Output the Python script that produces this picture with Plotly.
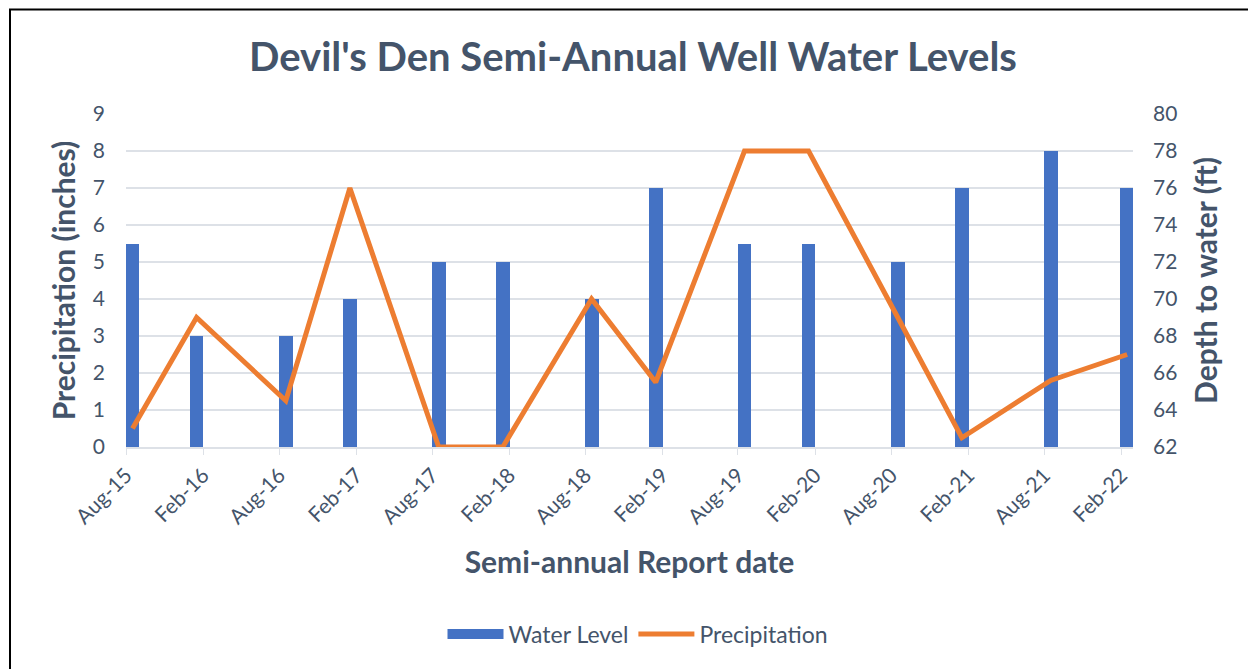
import plotly.graph_objects as go

# Data
report_months = ["2015-08", "2016-01", "2016-08", "2017-01", "2017-08", "2018-01", "2018-08",
                 "2019-01", "2019-08", "2020-01", "2020-08", "2021-01", "2021-08", "2022-02"]
water_level = [5.5, 3.0, 3.0, 4.0, 5.0, 5.0, 4.0, 7.0, 5.5, 5.5, 5.0, 7.0, 8.0, 7.0]
precipitation = [63.0, 69.0, 64.5, 76.0, 62.0, 62.0, 70.0, 65.5, 78.0, 78.0, 69.0, 62.5, 65.6, 67.0]

title_text = "Devil's Den Semi-Annual Well Water Levels"
x_title = "Semi-annual Report date"
y_title = "Precipitation (inches)"
y2_title = "Depth to water (ft)"

TXT = "#44546A"
GRID = "#DDE1E7"
BLUE = "#4472C4"
ORANGE = "#ED7D31"
FONT = "Lato"

# plot area in figure pixels (page has an 8px body offset)
L, R, T, B = 118, 1125, 106, 439
W, H = 1256, 669

fig = go.Figure()
fig.add_trace(go.Bar(
    x=report_months, y=water_level, name="Water Level",
    xperiod="M1", xperiodalignment="middle",
    width=33 * 86400000,
    marker=dict(color=BLUE, line=dict(width=0)),
    yaxis="y", showlegend=False, legendgroup="wl",
))
# legend entry for the bars (wide rectangle swatch)
fig.add_trace(go.Scatter(
    x=[None], y=[None], name="Water Level", mode="lines",
    line=dict(color=BLUE, width=15), legendgroup="wl", yaxis="y",
))
fig.add_trace(go.Scatter(
    x=report_months, y=precipitation, name="Precipitation",
    xperiod="M1", xperiodalignment="middle",
    mode="lines", line=dict(color=ORANGE, width=5),
    yaxis="y2",
))

fig.update_layout(
    width=W, height=H,
    paper_bgcolor="white", plot_bgcolor="white",
    margin=dict(l=L, r=W - R, t=T, b=H - B),
    font=dict(family=FONT, color=TXT, size=21),
    title=dict(text="<b>" + title_text + "</b>", x=(633 - 8) / W, xref="container", xanchor="center",
               y=1 - 49 / H, yref="container", yanchor="middle",
               font=dict(family=FONT, size=40, color=TXT)),
    xaxis=dict(
        type="date", range=["2015-08-01", "2022-03-01"],
        tick0="2015-08-01", dtick="M6", tickformat="%b-%y",
        tickangle=-45, ticks="outside", ticklen=6, tickcolor=GRID,
        showgrid=False, showline=True, linecolor=GRID, linewidth=1.5,
        tickfont=dict(size=21, color=TXT),
        title=dict(text="<b>" + x_title + "</b>", font=dict(size=30, color=TXT), standoff=25),
    ),
    yaxis=dict(
        range=[0, 9], dtick=1, showgrid=True, gridcolor=GRID, gridwidth=1.5,
        zeroline=False, showline=False, ticks="",
        tickfont=dict(size=21, color=TXT), ticklabelstandoff=20,
        title=dict(text="<b>" + y_title + "</b>", font=dict(size=30, color=TXT), standoff=8),
    ),
    yaxis2=dict(
        range=[62, 80], dtick=2, overlaying="y", side="right", showgrid=False,
        zeroline=False, showline=False, ticks="",
        tickfont=dict(size=21, color=TXT), ticklabelstandoff=19,
        title=dict(text="<b>" + y2_title + "</b>", font=dict(size=30, color=TXT), standoff=19),
    ),
    legend=dict(orientation="h", xref="container", yref="container",
                x=(638 - 8) / W, y=1 - (634 - 8) / H, xanchor="center", yanchor="middle",
                font=dict(size=23, color=TXT), itemwidth=56, traceorder="normal"),
    bargap=0,
    shapes=[dict(type="rect", xref="paper", yref="paper",
                 x0=(2 - L) / (R - L), x1=(1241 - L) / (R - L),
                 y0=(B - 700) / (B - T), y1=(B - 1.5) / (B - T),
                 line=dict(color="black", width=2), fillcolor="rgba(0,0,0,0)", layer="below")],
)

fig.write_html("out.html")
